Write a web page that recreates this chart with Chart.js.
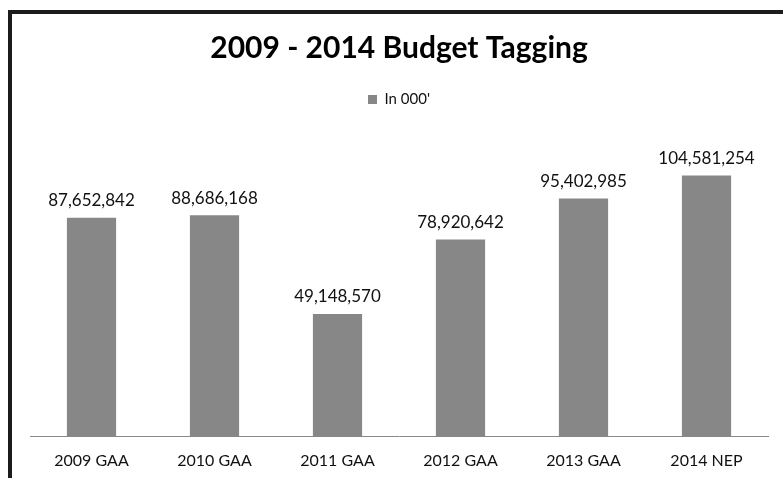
<!DOCTYPE html>
<html>
<head>
<meta charset="utf-8">
<script src="https://cdn.jsdelivr.net/npm/chart.js@4.4.1/dist/chart.umd.min.js"></script>
<style>
  html, body { margin: 0; padding: 0; background: #fff; }
  #wrap { position: relative; width: 783px; height: 478px; overflow: hidden; }
  #frame {
    position: absolute; left: 8px; top: 10px; right: -10px; bottom: -10px;
    border-top: 4px solid #1c1c1c; border-left: 4px solid #1c1c1c;
    pointer-events: none;
  }
  canvas { position: absolute; left: 0; top: 0; }
</style>
</head>
<body>
<div id="wrap">
  <canvas id="budgetChart" width="783" height="491"></canvas>
  <div id="frame"></div>
</div>
<script>
// 연도별 예산 (천 단위)
const categories = ['2009 GAA', '2010 GAA', '2011 GAA', '2012 GAA', '2013 GAA', '2014 NEP'];
const budgetValues = [87652842, 88686168, 49148570, 78920642, 95402985, 104581254];
const seriesName = "In 000'";

const FONT = 'Lato, "Open Sans", sans-serif';

// 막대 위에 값 표시
const valueLabels = {
  id: 'valueLabels',
  afterDatasetsDraw(chart) {
    const { ctx } = chart;
    const meta = chart.getDatasetMeta(0);
    ctx.save();
    ctx.font = '17px ' + FONT;
    ctx.fillStyle = '#111';
    ctx.textAlign = 'center';
    ctx.textBaseline = 'middle';
    meta.data.forEach((bar, i) => {
      const v = chart.data.datasets[0].data[i];
      ctx.fillText(v.toLocaleString('en-US'), bar.x, bar.y - 17);
    });
    ctx.restore();
  }
};

const ctx = document.getElementById('budgetChart').getContext('2d');
new Chart(ctx, {
  type: 'bar',
  data: {
    labels: categories,
    datasets: [{
      label: seriesName,
      data: budgetValues,
      backgroundColor: '#878787',
      borderWidth: 0,
      barPercentage: 0.4,
      categoryPercentage: 1.0
    }]
  },
  options: {
    responsive: false,
    animation: false,
    layout: { padding: { top: 14, left: 30, right: 15, bottom: 7 } },
    plugins: {
      title: {
        display: true,
        text: '2009 - 2014 Budget Tagging',
        color: '#000',
        font: { family: FONT, size: 30, weight: 'bold', lineHeight: 1.0 },
        padding: { top: 19, bottom: 0 }
      },
      legend: {
        display: true,
        position: 'top',
        labels: {
          boxWidth: 9,
          boxHeight: 9,
          color: '#111',
          font: { family: FONT, size: 15 },
          padding: 29
        }
      },
      tooltip: { enabled: false }
    },
    scales: {
      x: {
        grid: { display: false, drawTicks: false },
        border: { display: true, color: '#8a8a8a', width: 1 },
        ticks: { color: '#111', font: { family: FONT, size: 16 }, padding: 14, maxRotation: 0 }
      },
      y: {
        display: false,
        min: 0,
        max: 128000000
      }
    }
  },
  plugins: [valueLabels]
});
</script>
</body>
</html>
